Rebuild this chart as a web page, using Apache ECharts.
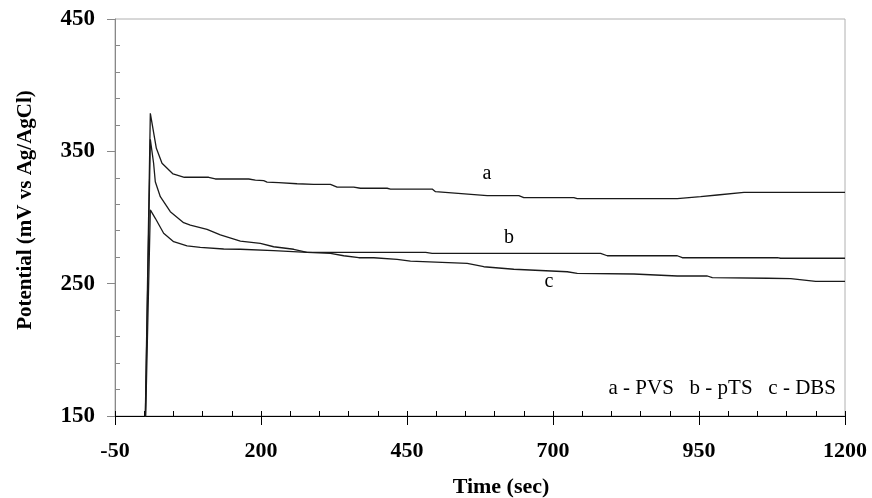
<!DOCTYPE html>
<html>
<head>
<meta charset="utf-8">
<script src="https://cdn.jsdelivr.net/npm/echarts@6/dist/echarts.min.js"></script>
<style>html,body{margin:0;padding:0;background:#fff}#c{width:872px;height:498px}</style>
</head>
<body>
<div id="c"></div>
<script>
// ---- data ----
const timeA = [0, 10.5, 20.8, 30.5, 49.4, 68.7, 110.4, 121.8, 178.9, 190.4, 204.6, 210.4, 230.3, 261.8, 290.3, 318.9, 330.3, 358.8, 370.3, 416.0, 421.7, 493.1, 498.8, 587.3, 641.5, 650.0, 735.7, 741.5, 912.8, 952.8, 981.4, 1027.0, 1200];
const valA  = [100, 378.7, 352.3, 341.0, 332.9, 330.4, 330.4, 329.1, 329.1, 328.3, 327.8, 326.8, 326.3, 325.5, 325.1, 325.1, 323.0, 323.0, 322.1, 322.1, 321.5, 321.5, 319.5, 316.5, 316.5, 315.0, 315.0, 314.2, 314.2, 315.7, 317.0, 319.0, 319.0];

const timeB = [0, 10.5, 16.1, 19.0, 27.6, 44.7, 67.5, 79.0, 107.6, 130.4, 164.7, 198.9, 221.7, 256.0, 279.0, 482.0, 493.0, 781.5, 792.9, 912.8, 921.4, 1084.2, 1089.8, 1200];
const valB  = [100, 359.1, 341.0, 327.0, 315.7, 304.4, 296.1, 294.3, 291.1, 286.8, 282.2, 280.5, 277.9, 276.0, 273.7, 273.7, 272.9, 272.9, 271.1, 271.1, 269.6, 269.6, 269.2, 269.2];

const timeC = [0, 10.5, 19.0, 33.3, 50.4, 73.4, 96.1, 136.1, 164.7, 221.7, 279.0, 318.9, 341.7, 367.4, 393.1, 433.1, 455.9, 553.1, 581.5, 632.9, 724.4, 741.5, 838.5, 912.8, 964.3, 972.8, 1067.0, 1107.0, 1149.8, 1200];
const valC  = [100, 305.7, 299.4, 288.1, 281.7, 278.5, 277.5, 276.2, 276.0, 274.9, 273.7, 272.9, 271.1, 269.6, 269.6, 268.4, 267.1, 265.4, 262.8, 260.9, 259.0, 257.8, 257.3, 255.8, 255.8, 254.5, 254.1, 253.8, 251.8, 251.8];

const seriesNames = ['a', 'b', 'c'];
const legendText = 'a - PVS   b - pTS   c - DBS';

const xMajorTicks = [-50, 200, 450, 700, 950, 1200];
const xMinorTicks = [-50, 0, 50, 100, 150, 200, 250, 300, 350, 400, 450, 500, 550, 600, 650, 700, 750, 800, 850, 900, 950, 1000, 1050, 1100, 1150, 1200];
const yMajorTicks = [150, 250, 350, 450];
const yMinorTicks = [170, 190, 210, 230, 270, 290, 310, 330, 370, 390, 410, 430];

const xTitle = 'Time (sec)';
const yTitle = 'Potential (mV vs Ag/AgCl)';

// ---- chart ----
const FONT = '"Liberation Serif", "Times New Roman", serif';
const pairs = (t, v) => t.map((x, i) => [x, v[i]]);
const LINE = '#1a1a1a';
const plain = v => String(v);

const chart = echarts.init(document.getElementById('c'), null, {renderer: 'canvas'});
const lineSeries = (name, t, v) => ({
  name, type: 'line', data: pairs(t, v), showSymbol: false, symbol: 'none',
  lineStyle: {color: LINE, width: 1.3}, clip: true, animation: false, z: 3
});

chart.setOption({
  backgroundColor: '#fff',
  animation: false,
  grid: {left: 115, right: 27, top: 19, bottom: 82, show: true, borderColor: '#b0b0b0', borderWidth: 1},
  xAxis: [{
    type: 'value', min: -50, max: 1200, position: 'bottom',
    axisLine: {show: true, onZero: false, lineStyle: {color: '#000', width: 1.2}},
    axisTick: {show: true, inside: true, length: 5, customValues: xMinorTicks, lineStyle: {color: '#000'}},
    axisLabel: {customValues: xMajorTicks, formatter: plain, margin: 24, color: '#000', fontFamily: FONT, fontWeight: 'bold', fontSize: 22},
    splitLine: {show: false}
  }, {
    type: 'value', min: -50, max: 1200, position: 'bottom', gridIndex: 0,
    axisLine: {show: false, onZero: false},
    axisTick: {show: true, inside: false, length: 9, customValues: xMajorTicks, lineStyle: {color: '#000'}},
    axisLabel: {show: false},
    splitLine: {show: false}
  }],
  yAxis: [{
    type: 'value', min: 150, max: 450, position: 'left',
    axisLine: {show: true, onZero: false, lineStyle: {color: '#888', width: 1}},
    axisTick: {show: true, inside: true, length: 5, customValues: yMinorTicks, lineStyle: {color: '#888'}},
    axisLabel: {customValues: yMajorTicks, formatter: plain, margin: 20, color: '#000', fontFamily: FONT, fontWeight: 'bold', fontSize: 23},
    splitLine: {show: false}
  }, {
    type: 'value', min: 150, max: 450, position: 'left', gridIndex: 0,
    axisLine: {show: false, onZero: false},
    axisTick: {show: true, inside: false, length: 8, customValues: yMajorTicks, lineStyle: {color: '#888'}},
    axisLabel: {show: false},
    splitLine: {show: false}
  }],
  series: [
    lineSeries(seriesNames[0], timeA, valA),
    lineSeries(seriesNames[1], timeB, valB),
    lineSeries(seriesNames[2], timeC, valC)
  ],
  graphic: [
    {type: 'text', x: 501, y: 487, style: {text: xTitle, font: 'bold 22px ' + FONT, fill: '#000', align: 'center', verticalAlign: 'middle'}},
    {type: 'text', x: 26, y: 210, rotation: Math.PI / 2, style: {text: yTitle, font: 'bold 21px ' + FONT, fill: '#000', align: 'center', verticalAlign: 'middle'}},
    {type: 'text', x: 836, y: 388, style: {text: legendText, font: '21px ' + FONT, fill: '#000', align: 'right', verticalAlign: 'middle'}},
    {type: 'text', x: 487, y: 174, style: {text: seriesNames[0], font: '20px ' + FONT, fill: '#000', align: 'center', verticalAlign: 'middle'}},
    {type: 'text', x: 509, y: 238, style: {text: seriesNames[1], font: '20px ' + FONT, fill: '#000', align: 'center', verticalAlign: 'middle'}},
    {type: 'text', x: 549, y: 282, style: {text: seriesNames[2], font: '20px ' + FONT, fill: '#000', align: 'center', verticalAlign: 'middle'}}
  ]
});
</script>
</body>
</html>
